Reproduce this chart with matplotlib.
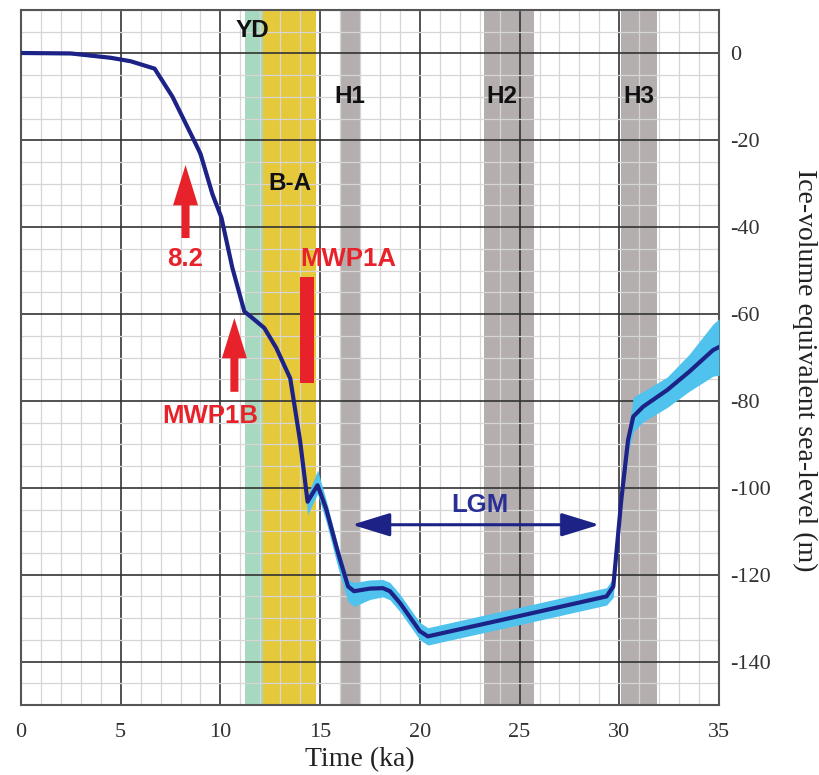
import matplotlib
matplotlib.use("Agg")
import matplotlib.pyplot as plt
from matplotlib.ticker import MultipleLocator
import numpy as np

# ---- data ----
time_ka = [0, 2.5, 4.5, 5.5, 6.7, 7.6, 8.6, 9.0, 9.6, 10.05, 10.6, 11.2, 11.6, 12.2,
           12.8, 13.5, 14.0, 14.37, 14.87, 15.3, 15.9, 16.4, 16.7, 17.5, 18.15, 18.5,
           19.0, 20.0, 20.4, 25.0, 29.36, 29.7, 30.1, 30.44, 30.7, 31.2, 32.4, 33.5,
           34.7, 35.0]
sea_level = [0.1, 0.0, -1.0, -1.8, -3.5, -10.0, -19.3, -23.1, -32.4, -37.8, -49.4,
             -59.4, -60.9, -63.2, -67.8, -74.8, -89.4, -103.2, -99.4, -104.8, -115.0,
             -122.7, -123.8, -123.2, -123.1, -123.8, -126.5, -133.0, -134.2, -129.5,
             -125.0, -122.7, -102.8, -89.0, -83.6, -81.3, -77.5, -73.3, -68.3, -67.6]
err_up = [0.3, 0.3, 0.3, 0.3, 0.3, 0.3, 0.3, 0.3, 0.3, 0.3, 0.3, 0.3, 0.3, 0.3,
          0.3, 0.3, 1.0, 1.5, 3.5, 2.0, 1.5, 1.5, 2.0, 2.0, 2.0, 2.0,
          2.0, 2.0, 2.0, 2.0, 2.0, 2.0, 2.0, 2.0, 4.5, 3.5, 3.0, 4.0, 6.0, 6.5]
err_dn = [0.3, 0.3, 0.3, 0.3, 0.3, 0.3, 0.3, 1.8, 1.5, 0.3, 0.3, 0.3, 0.3, 0.3,
          0.3, 0.3, 1.0, 3.0, 2.0, 3.0, 3.5, 3.5, 3.5, 2.5, 2.0, 2.0,
          2.0, 2.0, 2.0, 2.0, 2.0, 2.5, 2.0, 3.0, 3.5, 3.5, 4.0, 4.5, 6.0, 6.5]

band_names = ["YD", "B-A", "H1", "H2", "H3"]
band_start = [11.23, 12.13, 16.0, 23.2, 30.1]
band_end = [12.13, 14.8, 17.05, 25.7, 31.9]
band_colors = ["#a6d9c0", "#e6c93a", "#b4aeae", "#b4aeae", "#b4aeae"]
label_x = [11.6, 13.5, 16.5, 24.1, 31.0]
label_y = [5.3, -30.0, -10.0, -10.0, -10.0]

arrow_names = ["8.2", "MWP1B"]
arrow_x = [8.25, 10.7]
arrow_tail = [-42.5, -77.9]
arrow_head = [-25.7, -60.9]
arrow_text_x = [8.25, 9.5]
arrow_text_y = [-47.3, -83.5]

mwp1a_x = 14.35
mwp1a_top = -51.5
mwp1a_bottom = -75.9

lgm_start = 16.6
lgm_end = 29.0
lgm_y = -108.5

xticks = [0, 5, 10, 15, 20, 25, 30, 35]
yticks = [0, -20, -40, -60, -80, -100, -120, -140]

# ---- figure ----
plt.rcParams['axes.unicode_minus'] = False
fig = plt.figure(figsize=(8.2, 7.75), dpi=100)
ax = fig.add_axes([21 / 820, 1 - 705 / 775, 698 / 820, 695 / 775])

red = "#e8222b"
navy = "#1d2287"
cyan = "#4fc3ee"

for s, e, c in zip(band_start, band_end, band_colors):
    ax.axvspan(s, e, color=c, lw=0, zorder=1)

bold_k = dict(family="Liberation Sans", fontweight="bold", fontsize=17.5)
bold_r = dict(family="Liberation Sans", fontweight="bold", fontsize=18.5)
for n, x, y in zip(band_names, label_x, label_y):
    ax.text(x, y, n, ha="center", va="center", color="#111111", zorder=5, **bold_k)

t = np.array(time_ka)
sl = np.array(sea_level)
ax.fill_between(t, sl - np.array(err_dn), sl + np.array(err_up), color=cyan,
                lw=0, zorder=3)
ax.plot(t, sl, color=navy, lw=3.0, zorder=4, solid_joinstyle="round")

# red arrows
for n, x, y0, y1, tx, ty in zip(arrow_names, arrow_x, arrow_tail, arrow_head,
                                arrow_text_x, arrow_text_y):
    ax.annotate("", xy=(x, y1), xytext=(x, y0),
                arrowprops=dict(arrowstyle="simple,head_width=18,head_length=29,tail_width=5.8",
                                mutation_scale=1, color=red, lw=0,
                                shrinkA=0, shrinkB=0), zorder=6)
    ax.text(tx, ty, n, ha="center", va="center", color=red, zorder=6, **bold_r)

ax.bar([mwp1a_x], [mwp1a_top - mwp1a_bottom], bottom=[mwp1a_bottom], width=0.72,
       color=red, zorder=6)
ax.text(16.4, -47.3, "MWP1A", ha="center", va="center", color=red, zorder=6, **bold_r)

# LGM arrow
ax.annotate("", xy=(lgm_start, lgm_y), xytext=(lgm_end, lgm_y),
            arrowprops=dict(arrowstyle="<|-|>,head_width=0.4,head_length=1.3",
                            mutation_scale=18, color=navy, lw=2.2,
                            shrinkA=0, shrinkB=0), zorder=6)
ax.text(23.0, -104.0, "LGM", ha="center", va="center", color="#2a2f95", zorder=6, **bold_r)

# axes
ax.set_xlim(0, 35)
ax.set_ylim(-150, 10)
ax.set_xticks(xticks)
ax.set_yticks(yticks)
ax.xaxis.set_minor_locator(MultipleLocator(1))
ax.yaxis.set_minor_locator(MultipleLocator(5))
ax.set_axisbelow("line")
ax.grid(which="major", color="#333333", lw=1.2)
ax.grid(which="minor", color="#d6d6d6", lw=0.9)
ax.yaxis.tick_right()
ax.yaxis.set_label_position("right")
ax.tick_params(which="both", length=0)
ax.tick_params(axis="y", pad=8)
ax.tick_params(axis="x", pad=13)
for lab in ax.get_xticklabels() + ax.get_yticklabels():
    lab.set_family("Liberation Serif")
    lab.set_fontsize(16)
    lab.set_color("#333333")
for sp in ax.spines.values():
    sp.set_color("#555555")
    sp.set_linewidth(1.5)

ax.set_xlabel("Time (ka)", family="Liberation Serif", fontsize=20, color="#222222")
ax.xaxis.set_label_coords((360 - 21) / 698, -(760 - 705) / 695)
ax.xaxis.label.set_va("center")
ax.set_ylabel("Ice-volume equivalent sea-level (m)", family="Liberation Serif",
              fontsize=20, color="#222222", rotation=270, va="center", ha="center")
ax.yaxis.set_label_coords((805 - 21) / 698, 1 - (370 - 10) / 695)

fig.savefig("out.png", dpi=100)
